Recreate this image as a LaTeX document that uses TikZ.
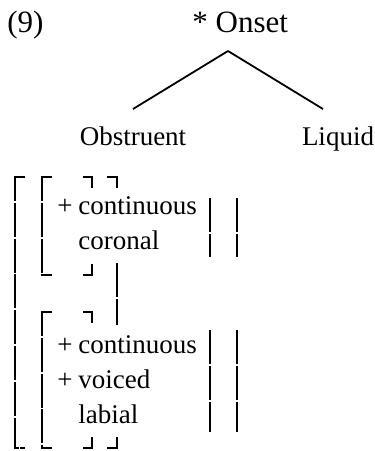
\documentclass[tikz,border=0pt]{standalone}
\usepackage{fontspec}
\setmainfont{Liberation Serif}
\begin{document}
\begin{tikzpicture}[
		x=0.5pt,y=-0.5pt,
		every node/.append style={inner sep=0pt,font=\fontsize{13.5}{16}\selectfont},
		big/.style={anchor=base west,font=\fontsize{15.5}{18}\selectfont},
		lbl/.style={anchor=base},
		feat/.style={anchor=base west},
		plus/.style={anchor=base},
		brk/.style={line width=1pt,miter limit=10,dash pattern=on 17pt off 0.9pt}
  	]
	\useasboundingbox (0,0) rectangle (375,451);
	% heading
	\node[big] (N) at (7,32) {(9)};
	\node[big] (O) at (192,32) {* Onset};
	% tree
	\coordinate (A) at (228,51);
	\coordinate (Ob) at (133,109);
	\coordinate (Lq) at (323,109);
	\node[lbl] (B) at (133,145) {Obstruent};
	\node[lbl] (Q) at (338,145) {Liquid};
	\draw[line width=0.9pt] (A) edge (Ob);
	\draw[line width=0.9pt] (A) edge (Lq);
	% first matrix
	\node[plus] (P1) at (65,214) {+};
	\node[feat] (F1) at (78,214) {continuous};
	\node[feat] (F2) at (78,249) {coronal};
	% second matrix
	\node[plus] (P2) at (65,353) {+};
	\node[feat] (G1) at (78,353) {continuous};
	\node[plus] (P3) at (65,388) {+};
	\node[feat] (G2) at (78,388) {voiced};
	\node[feat] (G3) at (78,423) {labial};
	% left brackets
	\draw[brk] (25,177) -- (15,177) -- (15,448) -- (25,448);
	\draw[brk] (52,177) -- (42,177) -- (42,275) -- (52,275);
	\draw[brk] (52,312) -- (42,312) -- (42,448) -- (52,448);
	% right brackets
	\draw[brk] (83,177) -- (92,177) -- (92,188);
	\draw[brk] (83,275) -- (92,275) -- (92,264);
	\draw[brk] (107,177) -- (117,177) -- (117,188);
	\draw[brk] (117,263) -- (117,325);
	\draw[brk] (83,312) -- (92,312) -- (92,323);
	\draw[brk] (83,448) -- (92,448) -- (92,437);
	\draw[brk] (107,448) -- (117,448) -- (117,437);
	\draw[brk] (210,198) -- (210,257);
	\draw[brk] (237,198) -- (237,257);
	\draw[brk] (210,330) -- (210,432);
	\draw[brk] (237,330) -- (237,432);
\end{tikzpicture}
\end{document}
